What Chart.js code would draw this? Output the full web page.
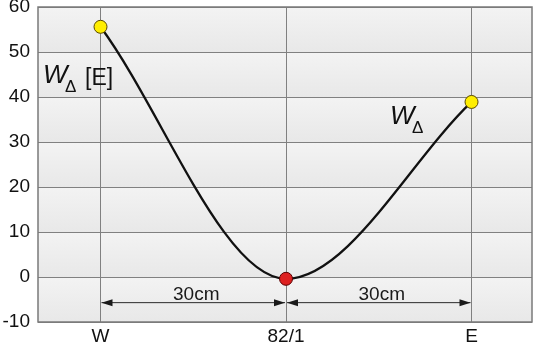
<!DOCTYPE html>
<html>
<head>
<meta charset="utf-8">
<script src="https://cdn.jsdelivr.net/npm/chart.js@4"></script>
<style>
  html, body { margin: 0; background: #fff; }
  #chart { display: block; }
</style>
</head>
<body>
<canvas id="chart" width="534" height="344"></canvas>
<script>
// stations along the profile and the W-delta value measured at each
const stations = ["W", "82/1", "E"];
const positions = [0, 1, 2];
const wDelta = [55.6, -0.4, 38.9];
const yTicks = [-10, 0, 10, 20, 30, 40, 50, 60];
const spanLabels = ["30cm", "30cm"];
const spanLevel = -5.7;

const FONT = "'Liberation Sans', Arial, sans-serif";

const plotBackground = {
    id: "plotBackground",
    beforeDraw(chart) {
        const {ctx, chartArea: a, scales: {y}} = chart;
        ctx.save();
        ctx.fillStyle = "#ececec";
        ctx.fillRect(a.left, a.top, a.width, a.height);
        // every band between grid lines gets its own soft gradient
        for (let i = 0; i < yTicks.length - 1; i++) {
            const top = y.getPixelForValue(yTicks[i + 1]);
            const bottom = y.getPixelForValue(yTicks[i]);
            const g = ctx.createLinearGradient(0, top, 0, bottom);
            g.addColorStop(0, "#f3f3f3");
            g.addColorStop(1, "#e8e8e8");
            ctx.fillStyle = g;
            ctx.fillRect(a.left, top, a.width, bottom - top);
        }
        ctx.restore();
    },
    afterDraw(chart) {
        const {ctx, chartArea: a} = chart;
        ctx.save();
        ctx.strokeStyle = "#7a7a7a";
        ctx.lineWidth = 1.5;
        ctx.strokeRect(a.left, a.top, a.width, a.height);
        ctx.restore();
    }
};

const arrowHead = (ctx, x, y, dir) => {
    ctx.beginPath();
    ctx.moveTo(x, y);
    ctx.lineTo(x - dir * 11, y - 3.5);
    ctx.lineTo(x - dir * 11, y + 3.5);
    ctx.closePath();
    ctx.fill();
};

const dimensions = {
    id: "dimensions",
    beforeDatasetsDraw(chart) {
        const {ctx, scales: {x, y}} = chart;
        const py = y.getPixelForValue(spanLevel);
        ctx.save();
        ctx.strokeStyle = "#2a2a2a";
        ctx.fillStyle = "#1a1a1a";
        ctx.lineWidth = 1;
        for (let i = 0; i < positions.length - 1; i++) {
            const x0 = x.getPixelForValue(positions[i]) + 1;
            const x1 = x.getPixelForValue(positions[i + 1]) - 1;
            ctx.beginPath();
            ctx.moveTo(x0, py);
            ctx.lineTo(x1, py);
            ctx.stroke();
            arrowHead(ctx, x0, py, -1);
            arrowHead(ctx, x1, py, 1);
            ctx.font = "19px " + FONT;
            ctx.textAlign = "center";
            ctx.textBaseline = "alphabetic";
            ctx.fillText(spanLabels[i], (x0 + x1) / 2 + 3, py - 3);
        }
        ctx.restore();
    },
    afterDraw(chart) {
        const {ctx, scales: {x, y}} = chart;
        ctx.save();
        ctx.fillStyle = "#111";
        ctx.textBaseline = "alphabetic";
        ctx.textAlign = "left";
        // W_delta [E] beside the left axis
        let px = x.getPixelForValue(-0.31), py = y.getPixelForValue(43.1);
        ctx.font = "italic 26px " + FONT;
        ctx.fillText("W", px, py);
        ctx.font = "17px " + FONT;
        ctx.fillText("\u0394", px + 22, py + 9);
        ctx.font = "23px " + FONT;
        ctx.fillText("[E]", px + 42, py + 2);
        // W_delta on the rising branch
        px = x.getPixelForValue(1.56); py = y.getPixelForValue(33.9);
        ctx.font = "italic 26px " + FONT;
        ctx.fillText("W", px, py);
        ctx.font = "17px " + FONT;
        ctx.fillText("\u0394", px + 22, py + 9);
        ctx.restore();
    }
};

new Chart(document.getElementById("chart"), {
    type: "line",
    data: {
        datasets: [{
            data: positions.map((p, i) => ({x: p, y: wDelta[i]})),
            borderColor: "#111",
            borderWidth: 2.3,
            cubicInterpolationMode: "monotone",
            pointRadius: 6.5,
            pointHoverRadius: 6.5,
            pointBorderWidth: 1,
            pointBorderColor: ["#5a4a00", "#5a0000", "#5a4a00"],
            pointBackgroundColor: ["#ffee00", "#dd2020", "#ffee00"],
            clip: false
        }]
    },
    options: {
        responsive: false,
        animation: false,
        devicePixelRatio: 1,
        layout: {autoPadding: false, padding: {top: 7, right: 2, left: 0, bottom: 0}},
        plugins: {legend: {display: false}, tooltip: {enabled: false}},
        scales: {
            x: {
                type: "linear",
                min: -0.337,
                max: 2.326,
                afterBuildTicks: axis => { axis.ticks = positions.map(v => ({value: v})); },
                afterFit: axis => {
                    axis.height = 22;
                    axis.paddingLeft = 0;
                    axis.paddingRight = 0;
                },
                ticks: {
                    autoSkip: false,
                    maxRotation: 0,
                    padding: 5,
                    color: "#111",
                    font: {family: FONT, size: 19, lineHeight: 1},
                    callback: v => stations[positions.indexOf(v)] ?? ""
                },
                grid: {color: "#808080", lineWidth: 1, drawTicks: false},
                border: {display: false}
            },
            y: {
                min: -10,
                max: 60,
                afterBuildTicks: axis => { axis.ticks = yTicks.map(v => ({value: v})); },
                afterFit: axis => {
                    axis.width = 38;
                    axis.paddingTop = 0;
                    axis.paddingBottom = 0;
                },
                ticks: {
                    padding: 8,
                    color: "#111",
                    font: {family: FONT, size: 19, lineHeight: 1}
                },
                grid: {color: "#808080", lineWidth: 1, drawTicks: false},
                border: {display: false}
            }
        }
    },
    plugins: [plotBackground, dimensions]
});
</script>
</body>
</html>
